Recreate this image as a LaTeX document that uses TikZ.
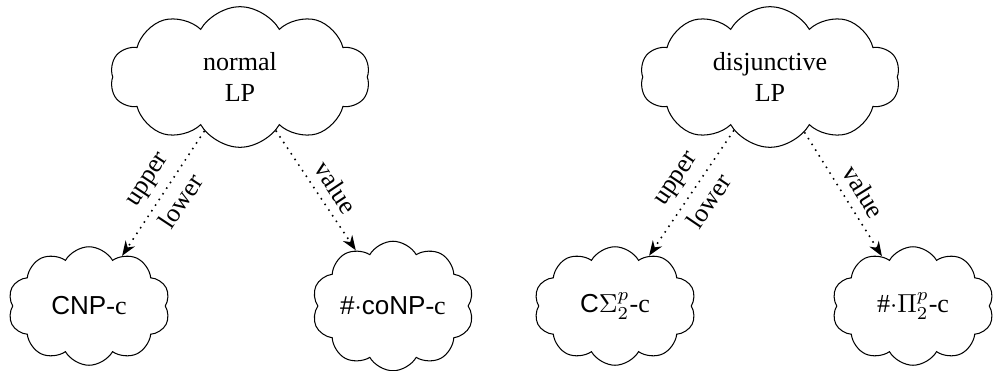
\documentclass[tikz,border=0pt]{standalone}
\usepackage{fontspec}
\setmainfont{Liberation Serif}
\setsansfont{Liberation Sans}
\usepackage{tikz}
\usetikzlibrary{arrows.meta,shapes.symbols}

\begin{document}
\begin{tikzpicture}[
    x=0.01351cm,y=-0.01351cm,
    bigcloud/.style={draw,cloud,cloud puffs=10,cloud puff arc=120,aspect=1.84,
      inner sep=0pt,minimum width=3.51cm,minimum height=1.9cm,align=center},
    smallcloud/.style={draw,cloud,cloud puffs=10,cloud puff arc=120,aspect=1.38,
      inner sep=0pt,minimum width=2.19cm,minimum height=1.6cm},
    arr/.style={-{Stealth[length=2mm]},dotted,semithick},
    lbl/.style={sloped,pos=0.48}
  ]
    \useasboundingbox (0,0) rectangle (994,370);
    % normal programs
    \node[bigcloud] (nlp) at (240,77) {normal\\LP};
    \node[smallcloud] (cnp) at (89,306) {\textsf{CNP}-c};
    \node[smallcloud] (sharpconp) at (393,306) {\textsf{\#$\cdot$coNP}-c};
    \draw[arr] (nlp) -- node[lbl,above] {upper} node[lbl,below] {lower} (cnp);
    \draw[arr] (nlp) -- node[lbl,above,pos=0.56] {value} (sharpconp);
    % disjunctive programs
    \node[bigcloud] (dlp) at (770,77) {disjunctive\\LP};
    \node[smallcloud] (csigma) at (615,306) {\textsf{C}$\Sigma^p_2$-c};
    \node[smallcloud] (sharppi) at (913,306) {\#$\cdot\Pi^p_2$-c};
    \draw[arr] (dlp) -- node[lbl,above] {upper} node[lbl,below] {lower} (csigma);
    \draw[arr] (dlp) -- node[lbl,above,pos=0.56] {value} (sharppi);
\end{tikzpicture}
\end{document}
